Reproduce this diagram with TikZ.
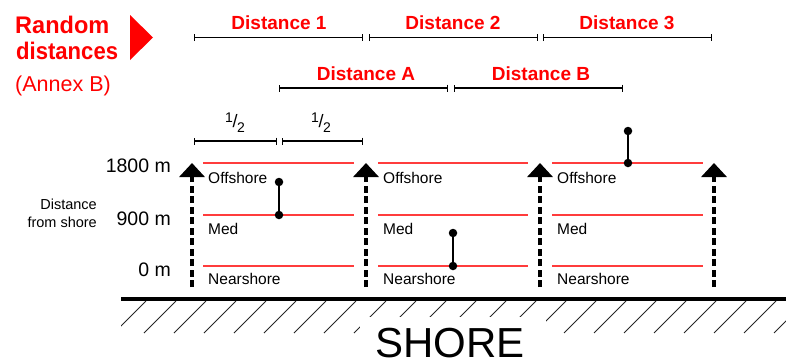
\documentclass[tikz,border=0pt]{standalone}
\usepackage{fontspec}
\setmainfont{Liberation Sans}
\usetikzlibrary{arrows.meta}
\definecolor{lnred}{RGB}{255,60,60}
\definecolor{txred}{RGB}{255,0,0}
\newcommand{\halfmark}{\raisebox{5pt}{1}\kern-0.5pt{\fontsize{18}{18}\selectfont/}\kern-0.5pt\raisebox{-5pt}{2}}
\begin{document}
\begin{tikzpicture}[x=1pt,y=-1pt,
  dimbar/.style={line width=1.3pt,{Bar[width=7pt]}-{Bar[width=7pt]}},
  dimlabel/.style={inner sep=0pt,text=txred,font=\fontsize{19}{19}\selectfont\bfseries},
  halflabel/.style={inner sep=0pt,font=\fontsize{14}{14}\selectfont},
  levelline/.style={draw=lnred,line width=1.4pt},
  axisarrow/.style={line width=4pt,dash pattern=on 7pt off 3.5pt,-{Triangle[width=25pt,length=14pt]}},
  zonelabel/.style={anchor=west,inner sep=0pt,font=\fontsize{15.5}{15.5}\selectfont},
  ylabel/.style={anchor=east,inner sep=0pt,font=\fontsize{19.5}{19.5}\selectfont},
  stem/.style={line width=1.5pt},
  dot/.style={circle,fill=black,inner sep=0pt,minimum size=8.5pt},
  hatch/.style={line width=0.8pt,black!85}]
\useasboundingbox (0,0) rectangle (786,362);

% left title
\node[anchor=base west,inner sep=0pt,text=txred,font=\fontsize{24}{24}\selectfont\bfseries] (rand) at (15,33) {\scalebox{0.98}[1]{Random}};
\node[anchor=base west,inner sep=0pt,text=txred,font=\fontsize{24}{24}\selectfont\bfseries] (dist) at (16,59) {\scalebox{0.92}[1]{distances}};
\node[anchor=west,inner sep=0pt,text=txred,font=\fontsize{21.5}{21.5}\selectfont] (annex) at (15,86) {(Annex B)};
\fill[txred] (130,15) -- (130,60) -- (153,37.5) -- cycle;

% top distance bars
\coordinate (d1a) at (194,37.5); \coordinate (d1b) at (363,37.5);
\coordinate (d2a) at (369,37.5); \coordinate (d2b) at (538,37.5);
\coordinate (d3a) at (543,37.5); \coordinate (d3b) at (712,37.5);
\draw[dimbar] (d1a) -- (d1b);
\draw[dimbar] (d2a) -- (d2b);
\draw[dimbar] (d3a) -- (d3b);
\node[dimlabel] (l1) at (279,22.5) {Distance 1};
\node[dimlabel] (l2) at (453,22.5) {Distance 2};
\node[dimlabel] (l3) at (627,22.5) {Distance 3};

\coordinate (dAa) at (279,88); \coordinate (dAb) at (448,88);
\coordinate (dBa) at (454,88); \coordinate (dBb) at (623,88);
\draw[dimbar] (dAa) -- (dAb);
\draw[dimbar] (dBa) -- (dBb);
\node[dimlabel] (lA) at (366,74) {Distance A};
\node[dimlabel] (lB) at (541,74) {Distance B};

% halves
\coordinate (h1a) at (194,141); \coordinate (h1b) at (277,141);
\coordinate (h2a) at (282,141); \coordinate (h2b) at (363,141);
\draw[dimbar] (h1a) -- (h1b);
\draw[dimbar] (h2a) -- (h2b);
\node[halflabel] (hl1) at (235,122.5) {\halfmark};
\node[halflabel] (hl2) at (321,122.5) {\halfmark};

% level lines
\foreach \xa/\xb in {203/354,378/528,552/703}{
  \foreach \yy in {163,215,266}{
    \draw[levelline] (\xa,\yy) -- (\xb,\yy);
  }
}

% axis arrows
\foreach \ax [count=\i] in {192,366,540,714}{
  \coordinate (ab\i) at (\ax,287);
  \coordinate (at\i) at (\ax,163);
  \draw[axisarrow] (ab\i) -- (at\i);
}

% zone labels
\foreach \lx [count=\i] in {208,383,557}{
  \node[zonelabel] (off\i) at (\lx,178) {Offshore};
  \node[zonelabel] (med\i) at (\lx,229) {Med};
  \node[zonelabel] (near\i) at (\lx,279) {Nearshore};
}

% y labels
\node[ylabel] (y1800) at (171,166) {1800 m};
\node[ylabel] (y900) at (171,219) {900 m};
\node[ylabel] (y0) at (171,270) {0 m};
\node[anchor=east,inner sep=0pt,align=right,font=\fontsize{14.5}{18}\selectfont] (dfs) at (97,213) {Distance\\from shore};

% random samples
\node[dot] (s1a) at (279,182) {}; \node[dot] (s1b) at (279,215) {};
\node[dot] (s2a) at (453,233) {}; \node[dot] (s2b) at (453,266) {};
\node[dot] (s3a) at (628,131) {}; \node[dot] (s3b) at (628,163) {};
\draw[stem] (s1a) -- (s1b);
\draw[stem] (s2a) -- (s2b);
\draw[stem] (s3a) -- (s3b);

% ground
\begin{scope}
  \clip (121,300) rectangle (786,340);
  \foreach \k in {0,...,23}{
    \draw[hatch] (146+30*\k,301) -- (114+30*\k,333);
  }
\end{scope}
\draw[line width=4pt] (121,299) -- (786,299);
\fill[white] (360,317) rectangle (546,362);
\node[anchor=base,inner sep=0pt,font=\fontsize{42}{42}\selectfont] (shore) at (450,357) {SHORE};
\end{tikzpicture}
\end{document}
